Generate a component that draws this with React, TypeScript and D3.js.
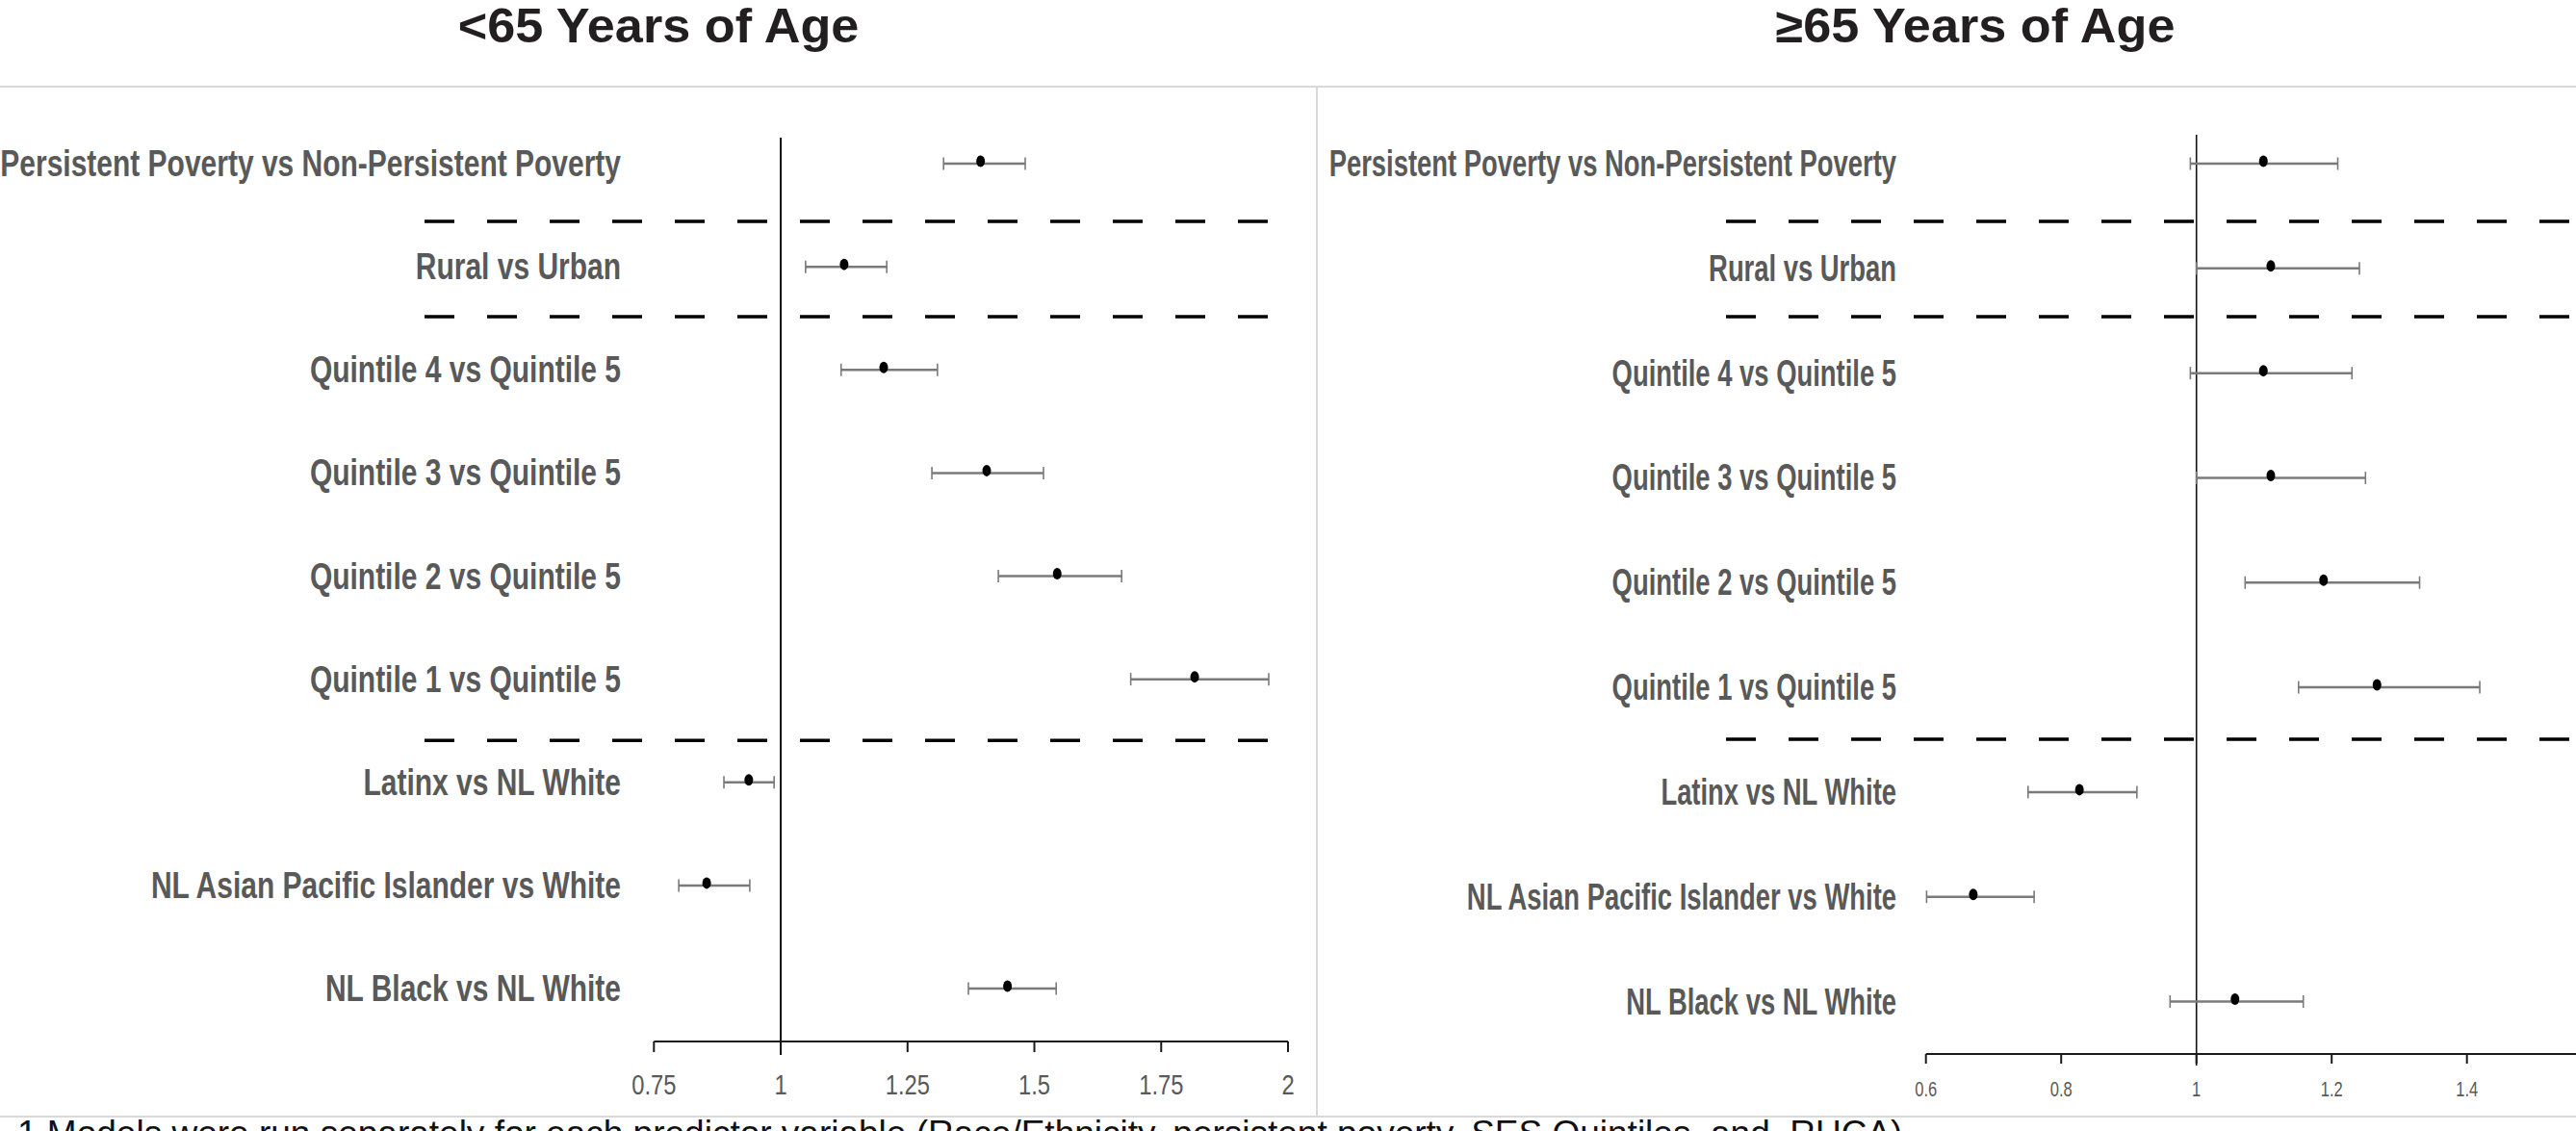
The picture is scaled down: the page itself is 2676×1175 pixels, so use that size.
import React from 'react';
import * as d3 from 'd3';

const categories = [
  'Persistent Poverty vs Non-Persistent Poverty',
  'Rural vs Urban',
  'Quintile 4 vs Quintile 5',
  'Quintile 3 vs Quintile 5',
  'Quintile 2 vs Quintile 5',
  'Quintile 1 vs Quintile 5',
  'Latinx vs NL White',
  'NL Asian Pacific Islander vs White',
  'NL Black vs NL White',
];

const under65OR = [1.394, 1.125, 1.203, 1.406, 1.545, 1.816, 0.937, 0.854, 1.447];
const under65Low = [1.321, 1.049, 1.119, 1.298, 1.429, 1.69, 0.888, 0.799, 1.37];
const under65High = [1.482, 1.209, 1.309, 1.518, 1.672, 1.962, 0.987, 0.939, 1.543];

const over65OR = [1.099, 1.11, 1.099, 1.11, 1.188, 1.267, 0.827, 0.67, 1.057];
const over65Low = [0.991, 1.0, 0.991, 1.0, 1.072, 1.151, 0.751, 0.601, 0.961];
const over65High = [1.209, 1.241, 1.23, 1.25, 1.33, 1.419, 0.912, 0.76, 1.158];

const under65Ticks = [0.75, 1, 1.25, 1.5, 1.75, 2];
const over65Ticks = [0.6, 0.8, 1, 1.2, 1.4];
const under65Separators = [0.56, 1.485, 5.593];
const over65Separators = [0.551, 1.461, 5.496];

const titles = ['<65 Years of Age', '\u226565 Years of Age'];
const footnote =
  '1 Models were run separately for each predictor variable (Race/Ethnicity, persistent poverty, SES Quintiles, and  RUCA)';

const W = 2676;
const H = 1175;

type Panel = {
  title: string;
  titleX: number;
  or: number[];
  lo: number[];
  hi: number[];
  ticks: number[];
  seps: number[];
  x: d3.ScaleLinear<number, number>;
  y: d3.ScaleLinear<number, number>;
  labelRight: number;
  labelScale: number;
  axisY: number;
  tickLen: number;
  tickFont: number;
  tickScale: number;
  tickBaseline: number;
  refTop: number;
  refBottom: number;
  refWidth: number;
  sepX0: number;
  sepX1: number;
};

const panels: Panel[] = [
  {
    title: titles[0],
    titleX: 684,
    or: under65OR,
    lo: under65Low,
    hi: under65High,
    ticks: under65Ticks,
    seps: under65Separators,
    x: d3.scaleLinear().domain([0.75, 2]).range([679.3, 1338]),
    y: d3.scaleLinear().domain([0, 8]).range([170, 1027]),
    labelRight: 645,
    labelScale: 0.769,
    axisY: 1082,
    tickLen: 11,
    tickFont: 30,
    tickScale: 0.79,
    tickBaseline: 1137,
    refTop: 143,
    refBottom: 1096,
    refWidth: 2,
    sepX0: 441,
    sepX1: 1318,
  },
  {
    title: titles[1],
    titleX: 2052,
    or: over65OR,
    lo: over65Low,
    hi: over65High,
    ticks: over65Ticks,
    seps: over65Separators,
    x: d3.scaleLinear().domain([0.6, 1.6]).range([2000.7, 2703.2]),
    y: d3.scaleLinear().domain([0, 8]).range([170, 1040.5]),
    labelRight: 1970,
    labelScale: 0.703,
    axisY: 1095,
    tickLen: 10,
    tickFont: 22,
    tickScale: 0.75,
    tickBaseline: 1139,
    refTop: 140,
    refBottom: 1107,
    refWidth: 1.6,
    sepX0: 1793,
    sepX1: 2690,
  },
];

function PanelView({ p }: { p: Panel }) {
  const [d0, d1] = p.x.domain();
  return (
    <g>
      <text
        transform={`translate(${p.titleX},44) scale(1.045,1)`}
        textAnchor="middle"
        fontFamily="'Liberation Sans', Arial, sans-serif"
        fontWeight="bold"
        fontSize={50}
        fill="#231f20"
      >
        {p.title}
      </text>
      {p.seps.map((s, i) => (
        <line
          key={'s' + i}
          x1={p.sepX0}
          x2={p.sepX1}
          y1={p.y(s)}
          y2={p.y(s)}
          stroke="#000"
          strokeWidth={3.5}
          strokeDasharray="31 34"
        />
      ))}
      <line
        x1={p.x(1)}
        x2={p.x(1)}
        y1={p.refTop}
        y2={p.refBottom}
        stroke="#111"
        strokeWidth={p.refWidth}
      />
      <line x1={p.x(d0)} x2={p.x(d1)} y1={p.axisY} y2={p.axisY} stroke="#1a1a1a" strokeWidth={2} />
      {p.ticks.map((t) => (
        <g key={'t' + t}>
          <line
            x1={p.x(t)}
            x2={p.x(t)}
            y1={p.axisY}
            y2={p.axisY + p.tickLen}
            stroke="#1a1a1a"
            strokeWidth={2}
          />
          <text
            transform={`translate(${p.x(t)},${p.tickBaseline}) scale(${p.tickScale},1)`}
            textAnchor="middle"
            fontFamily="'Liberation Sans', Arial, sans-serif"
            fontSize={p.tickFont}
            fill="#595959"
          >
            {String(t)}
          </text>
        </g>
      ))}
      {categories.map((c, i) => {
        const yy = p.y(i);
        return (
          <g key={c}>
            <text
              transform={`translate(${p.labelRight},${yy + 13}) scale(${p.labelScale},1)`}
              textAnchor="end"
              fontFamily="'Liberation Sans', Arial, sans-serif"
              fontWeight="bold"
              fontSize={39}
              fill="#595959"
            >
              {c}
            </text>
            <line x1={p.x(p.lo[i])} x2={p.x(p.hi[i])} y1={yy} y2={yy} stroke="#7a7a7a" strokeWidth={2.5} />
            <line x1={p.x(p.lo[i])} x2={p.x(p.lo[i])} y1={yy - 6.5} y2={yy + 6.5} stroke="#7a7a7a" strokeWidth={1.6} />
            <line x1={p.x(p.hi[i])} x2={p.x(p.hi[i])} y1={yy - 6.5} y2={yy + 6.5} stroke="#7a7a7a" strokeWidth={1.6} />
            <ellipse cx={p.x(p.or[i])} cy={yy - 2.5} rx={4.5} ry={6} fill="#000" />
          </g>
        );
      })}
    </g>
  );
}

export default function App() {
  return (
    <svg
      width={W}
      height={H}
      viewBox={`0 0 ${W} ${H}`}
      style={{ position: 'absolute', left: 0, top: 0, background: '#fff', display: 'block' }}
    >
      <rect x={0} y={0} width={W} height={H} fill="#fff" />
      <line x1={0} x2={W} y1={90} y2={90} stroke="#d9d9d9" strokeWidth={2} />
      <line x1={1368} x2={1368} y1={90} y2={1160} stroke="#d9d9d9" strokeWidth={2} />
      <line x1={0} x2={W} y1={1160} y2={1160} stroke="#d9d9d9" strokeWidth={2} />
      {panels.map((p, i) => (
        <PanelView key={i} p={p} />
      ))}
      <text
        x={18}
        y={1190}
        fontFamily="'Liberation Sans', Arial, sans-serif"
        fontSize={37}
        fill="#111"
        style={{ whiteSpace: 'pre' }}
      >
        {footnote}
      </text>
    </svg>
  );
}
